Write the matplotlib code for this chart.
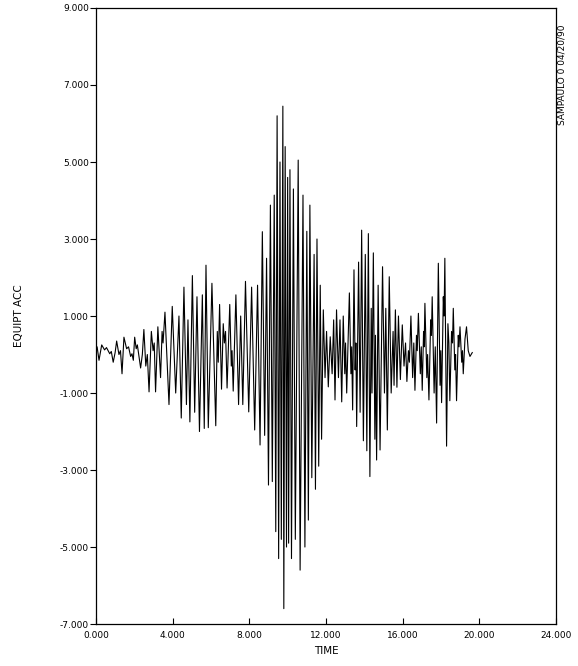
import matplotlib
matplotlib.use('Agg')
import matplotlib.pyplot as plt

# peaks / troughs of the record (time in s, acc)
t_seg1 = [0.00, 0.06, 0.16, 0.30, 0.45, 0.55, 0.72, 0.80, 0.90, 1.00,
          1.08, 1.20, 1.28, 1.36, 1.46, 1.60, 1.70, 1.81, 1.88, 1.95,
          2.02, 2.10, 2.16, 2.33, 2.42, 2.50, 2.60, 2.68, 2.77, 2.89,
          2.98, 3.04, 3.11, 3.23, 3.37, 3.45, 3.50, 3.60, 3.81, 3.98,
          4.16, 4.33, 4.45, 4.59, 4.72, 4.80, 4.90, 5.03, 5.15, 5.27, 5.40]
a_seg1 = [0.05, 0.20, -0.15, 0.25, 0.12, 0.18, 0.02, 0.08, -0.20, 0.05,
          0.35, 0.00, 0.10, -0.50, 0.45, 0.15, 0.20, -0.05, 0.02, -0.15,
          0.45, 0.15, 0.25, -0.35, 0.00, 0.65, -0.30, 0.00, -0.97, 0.60,
          0.10, 0.30, -0.97, 0.72, -0.60, 0.60, 0.30, 1.10, -1.30, 1.25,
          -1.00, 1.00, -1.65, 1.75, -1.30, 0.90, -1.75, 2.05, -1.50, 1.50, -2.00]

t_seg2 = [5.55, 5.65, 5.74, 5.86, 6.05, 6.25, 6.33, 6.38, 6.45, 6.55,
          6.64, 6.70, 6.76, 6.84, 6.98, 7.06, 7.10, 7.16, 7.30, 7.44,
          7.55, 7.66, 7.80, 7.97, 8.12, 8.28, 8.43, 8.56, 8.68, 8.80,
          8.90, 9.00, 9.10, 9.20, 9.30, 9.38, 9.45, 9.53, 9.60, 9.67,
          9.75, 9.80, 9.87, 9.94, 10.00, 10.05, 10.12, 10.20, 10.30, 10.40]
a_seg2 = [1.55, -1.92, 2.32, -1.90, 1.85, -1.85, 0.60, -0.20, 1.30, -0.90,
          0.80, 0.30, 0.60, -0.87, 1.30, -0.30, 0.10, -0.95, 1.55, -1.30,
          1.00, -1.30, 1.90, -1.49, 1.75, -1.96, 1.80, -2.35, 3.19, -2.10,
          2.50, -3.39, 3.88, -3.30, 4.14, -4.60, 6.20, -5.30, 5.00, -4.80,
          6.45, -6.60, 5.40, -5.00, 4.60, -4.90, 4.80, -5.30, 4.30, -4.80]

t_seg3 = [10.55, 10.65, 10.80, 10.90, 11.00, 11.08, 11.16, 11.26, 11.38, 11.45,
          11.53, 11.62, 11.70, 11.77, 11.86, 11.95, 12.03, 12.12, 12.22, 12.32,
          12.40, 12.47, 12.55, 12.65, 12.73, 12.82, 12.90, 12.98, 13.02, 13.08,
          13.22, 13.30, 13.34, 13.39, 13.46, 13.52, 13.56, 13.60, 13.70, 13.78,
          13.86, 13.95, 14.05, 14.13, 14.21, 14.29, 14.36, 14.40, 14.47, 14.55,
          14.58, 14.64, 14.72, 14.82, 14.95, 15.05, 15.12, 15.20, 15.30]
a_seg3 = [5.05, -5.60, 4.14, -5.00, 3.20, -4.30, 3.88, -3.20, 2.60, -3.50,
          3.00, -2.90, 1.80, -2.20, 1.16, -0.60, 0.60, -0.84, 0.46, -0.50,
          0.90, -1.18, 1.16, -0.60, 0.90, -1.23, 1.00, -0.50, 0.30, -1.00,
          1.60, -0.50, 0.20, -1.44, 2.20, -0.40, 0.30, -1.87, 2.40, -1.50,
          3.23, -2.24, 2.60, -2.50, 3.14, -3.17, 1.20, -1.00, 2.64, -2.20,
          0.50, -2.74, 1.80, -2.48, 2.28, -1.00, 1.20, -1.96, 2.02]

t_seg4 = [15.40, 15.50, 15.55, 15.62, 15.70, 15.78, 15.88, 15.98, 16.07, 16.15,
          16.22, 16.30, 16.35, 16.43, 16.52, 16.58, 16.64, 16.72, 16.76, 16.82,
          16.92, 16.97, 17.02, 17.09, 17.12, 17.16, 17.26, 17.30, 17.37, 17.46,
          17.50, 17.54, 17.64, 17.70, 17.77, 17.86, 17.95, 17.99, 18.03, 18.12,
          18.16, 18.20, 18.29, 18.36, 18.41, 18.46, 18.55, 18.60, 18.64, 18.72,
          18.76, 18.81, 18.90, 18.94, 18.99, 19.08, 19.12, 19.16, 19.25, 19.33,
          19.42, 19.51, 19.63]
a_seg4 = [-1.00, 0.60, -0.80, 1.16, -0.85, 1.00, -0.65, 0.77, -0.30, 0.30,
          -0.70, 0.10, -0.20, 1.00, -0.60, 0.30, -0.93, 0.50, 0.10, 1.07,
          -0.50, 0.20, -0.93, 0.60, 0.20, 1.33, -0.60, 0.00, -1.18, 0.90,
          0.50, 1.50, -1.00, 0.20, -1.78, 2.37, -0.80, 0.10, -1.25, 1.50,
          1.00, 2.50, -2.38, 0.80, 0.30, -1.20, 0.60, 0.30, 1.20, -0.40,
          0.00, -1.20, 0.50, 0.20, 0.72, -0.20, 0.10, -0.50, 0.40, 0.72,
          0.10, -0.05, 0.05]

x_ticks = [0, 4, 8, 12, 16, 20, 24]
y_ticks = [-7, -5, -3, -1, 1, 3, 5, 7, 9]
run_label = 'SAMPAULO 0 04/20/90'

time = t_seg1 + t_seg2 + t_seg3 + t_seg4
acc = a_seg1 + a_seg2 + a_seg3 + a_seg4

fig = plt.figure(figsize=(5.78, 6.66), dpi=100)
ax = fig.add_axes([0.166, 0.063, 0.796, 0.925])
ax.plot(time, acc, color='black', lw=0.8)

ax.set_xlim(0, 24)
ax.set_ylim(-7, 9)
ax.set_xticks(x_ticks)
ax.set_yticks(y_ticks)
ax.set_xticklabels(['%.3f' % v for v in x_ticks], fontsize=6.5)
ax.set_yticklabels(['%.3f' % v for v in y_ticks], fontsize=6.5)
ax.tick_params(axis='x', direction='in', length=4, width=0.8, pad=5)
ax.tick_params(axis='y', direction='out', length=4, width=0.8, pad=1)
for s in ax.spines.values():
    s.set_linewidth(0.9)

ax.set_xlabel('TIME', fontsize=7.5, labelpad=4)
ax.set_ylabel('EQUIPT ACC', fontsize=7.5, labelpad=26)
fig.text(0.965, 0.888, run_label, rotation=90, fontsize=6.5,
         ha='left', va='center')

fig.savefig('out.png', dpi=100)
